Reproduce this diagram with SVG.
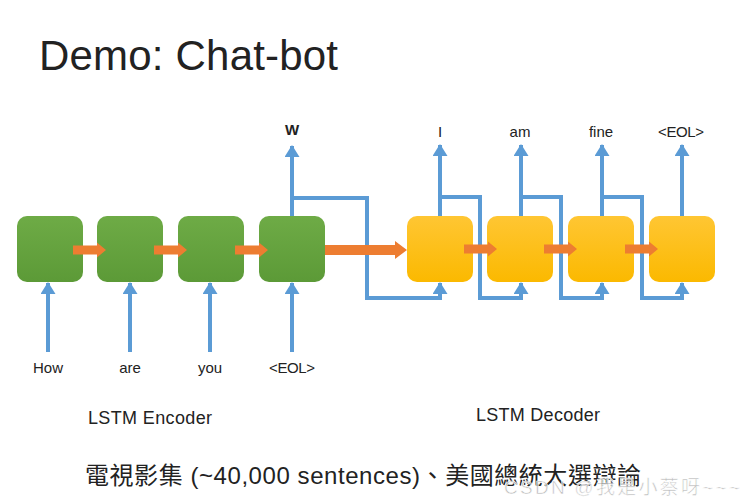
<svg xmlns="http://www.w3.org/2000/svg" width="745" height="504" viewBox="0 0 745 504">
<style>
.t{font-family:"Liberation Sans","Noto Sans CJK TC",sans-serif;fill:#222}
.lbl{font-size:15px;text-anchor:middle}
.blue{fill:none;stroke:#5b9bd5;stroke-width:4}
.orange{fill:#ed7d31}
.enc{fill:url(#gG)}
.dec{fill:url(#gY)}
</style>
<defs>
<linearGradient id="gG" x1="0" y1="0" x2="0" y2="1">
<stop offset="0" stop-color="#6eab46"/>
<stop offset="1" stop-color="#5c9a37"/>
</linearGradient>
<linearGradient id="gY" x1="0" y1="0" x2="0" y2="1">
<stop offset="0" stop-color="#ffc633"/>
<stop offset="1" stop-color="#fbb900"/>
</linearGradient>
<marker id="ah" viewBox="0 0 12 15" refX="11" refY="7.5" markerWidth="3" markerHeight="3.75" orient="auto" markerUnits="strokeWidth">
<path d="M0,0 L12,7.5 L0,15 Z" fill="#5b9bd5"/>
</marker>
</defs>
<rect width="745" height="504" fill="#ffffff"/>
<text class="t" x="39" y="70" font-size="42" textLength="299" fill="#111">Demo: Chat-bot</text>

<g id="connectors">
<path class="blue" d="M48,352 V283" marker-end="url(#ah)"/>
<path class="blue" d="M130,352 V283" marker-end="url(#ah)"/>
<path class="blue" d="M210,352 V283" marker-end="url(#ah)"/>
<path class="blue" d="M292,352 V283" marker-end="url(#ah)"/>
<path class="blue" d="M292,216 V146" marker-end="url(#ah)"/>
<path class="blue" d="M292,198 H367 V298 H440 V283" marker-end="url(#ah)"/>
<path class="blue" d="M440,216 V145" marker-end="url(#ah)"/>
<path class="blue" d="M440,197 H480 V298 H521 V283" marker-end="url(#ah)"/>
<path class="blue" d="M521,216 V145" marker-end="url(#ah)"/>
<path class="blue" d="M521,197 H561 V298 H602 V283" marker-end="url(#ah)"/>
<path class="blue" d="M602,216 V145" marker-end="url(#ah)"/>
<path class="blue" d="M602,197 H642 V298 H682 V283" marker-end="url(#ah)"/>
<path class="blue" d="M682,216 V145" marker-end="url(#ah)"/>
</g>

<g id="enc1"><rect class="enc" x="17" y="216" width="66" height="66" rx="10"/></g>
<g id="enc2"><rect class="enc" x="97" y="216" width="66" height="66" rx="10"/></g>
<g id="enc3"><rect class="enc" x="178" y="216" width="66" height="66" rx="10"/></g>
<g id="enc4"><rect class="enc" x="259" y="216" width="66" height="66" rx="10"/></g>
<g id="dec1"><rect class="dec" x="407" y="216" width="66" height="66" rx="10"/></g>
<g id="dec2"><rect class="dec" x="487" y="216" width="66" height="66" rx="10"/></g>
<g id="dec3"><rect class="dec" x="568" y="216" width="66" height="66" rx="10"/></g>
<g id="dec4"><rect class="dec" x="649" y="216" width="66" height="66" rx="10"/></g>

<g id="orange-arrows">
<path class="orange" d="M73,245.5 H97 V242.5 L106,250 L97,257.5 V254.5 H73 Z"/>
<path class="orange" d="M154,245.5 H178 V242.5 L187,250 L178,257.5 V254.5 H154 Z"/>
<path class="orange" d="M235,245.5 H259 V242.5 L268,250 L259,257.5 V254.5 H235 Z"/>
<path class="orange" d="M325,245 H395 V241 L407,250 L395,259 V255 H325 Z"/>
<path class="orange" d="M464,244.5 H488 V241.5 L497,249 L488,256.5 V253.5 H464 Z"/>
<path class="orange" d="M544,244.5 H568 V241.5 L577,249 L568,256.5 V253.5 H544 Z"/>
<path class="orange" d="M625,244.5 H649 V241.5 L658,249 L649,256.5 V253.5 H625 Z"/>
</g>

<g id="labels">
<text class="t lbl" x="292" y="135" font-weight="bold" font-size="14">W</text>
<text class="t lbl" x="440" y="137">I</text>
<text class="t lbl" x="520" y="137">am</text>
<text class="t lbl" x="601" y="137">fine</text>
<text class="t lbl" x="681" y="137" textLength="46">&lt;EOL&gt;</text>
<text class="t lbl" x="48" y="373">How</text>
<text class="t lbl" x="130" y="373">are</text>
<text class="t lbl" x="210" y="373">you</text>
<text class="t lbl" x="292" y="373" textLength="46">&lt;EOL&gt;</text>
<text class="t" x="88" y="424" font-size="18" textLength="124">LSTM Encoder</text>
<text class="t" x="476" y="421" font-size="18" textLength="124">LSTM Decoder</text>
<text class="t" x="85" y="484" font-size="24" textLength="556">電視影集 (~40,000 sentences)、美國總統大選辯論</text>
<text x="504" y="494" font-family="Liberation Sans,Noto Sans CJK SC,sans-serif" font-size="19" fill="#aaaaaa" fill-opacity="0.8" stroke="#ffffff" stroke-width="0.6" textLength="236">CSDN @我是小蔡呀~~~</text>
</g>
</svg>
